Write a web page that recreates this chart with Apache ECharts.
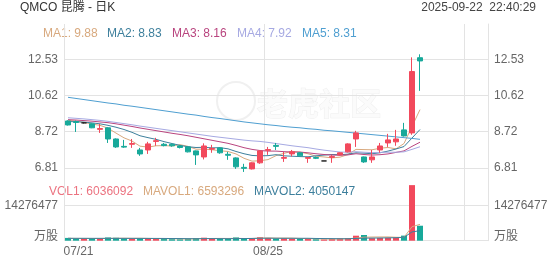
<!DOCTYPE html>
<html><head><meta charset="utf-8">
<script src="https://cdn.jsdelivr.net/npm/echarts@6/dist/echarts.min.js"></script>
<style>html,body{margin:0;padding:0;background:#fff}#c{width:552px;height:265px}</style>
</head><body><div id="c"></div>
<script>
// ---------- data ----------
const headerTitle = 'QMCO 昆腾 - 日K';
const timestamp = '2025-09-22  22:40:29';
const dates = ['07/21','07/22','07/23','07/24','07/25','07/28','07/29','07/30','07/31','08/01',
  '08/04','08/05','08/06','08/07','08/08','08/11','08/12','08/13','08/14','08/15',
  '08/18','08/19','08/20','08/21','08/22','08/25','08/26','08/27','08/28','08/29',
  '09/02','09/03','09/04','09/05','09/08','09/09','09/10','09/11','09/12','09/15',
  '09/16','09/17','09/18','09/19','09/22'];
const futureDates = ['09/23','09/24','09/25','09/26','09/29','09/30','10/01','10/02'];
const labelDates = ['07/21','08/25'];
const opens  = [9.28,9.25,9.18,9.13,8.84,8.92,8.33,7.94,8.05,7.75,7.75,8.20,8.05,8.05,7.96,7.91,7.70,7.38,7.79,7.86,7.52,7.33,6.83,6.75,7.07,7.73,7.99,7.31,7.54,7.60,7.31,7.35,7.17,7.36,7.49,7.65,8.33,7.38,7.23,7.75,8.12,8.18,8.81,8.65,12.62];
const closes = [9.07,9.20,9.18,8.92,8.88,8.33,7.91,7.90,8.09,7.54,8.07,8.24,7.98,7.97,7.88,7.65,7.49,7.96,7.83,7.60,7.47,6.86,6.78,7.07,7.70,7.77,7.94,7.35,7.65,7.44,7.35,7.31,7.17,7.40,7.60,8.07,8.65,7.12,7.38,7.96,8.28,8.33,8.49,11.89,12.45];
const lows   = [9.04,8.70,9.15,8.90,8.65,8.12,7.86,7.86,7.86,7.44,7.54,7.97,7.94,7.92,7.83,7.62,6.96,7.25,7.60,7.55,7.23,6.75,6.59,6.72,7.02,7.49,7.75,7.12,7.41,7.40,7.07,7.27,7.17,7.07,7.46,7.62,7.91,7.07,7.07,7.60,7.91,7.97,8.46,8.55,10.87];
const highs  = [9.32,9.30,9.20,9.15,9.12,8.95,8.36,8.28,8.33,7.86,8.18,8.39,8.12,8.09,8.00,7.94,7.72,8.10,8.02,7.88,7.65,7.36,7.02,7.10,7.74,7.91,8.12,7.65,7.75,7.64,7.38,7.40,7.17,7.49,7.62,8.10,8.76,7.40,7.75,8.12,8.60,8.81,9.18,12.64,12.80];
const ma1 = [9.32,9.27,9.20,9.12,9.05,8.90,8.64,8.39,8.22,7.95,7.90,7.97,7.98,7.96,8.03,7.94,7.79,7.79,7.76,7.71,7.67,7.54,7.31,7.16,7.18,7.24,7.45,7.57,7.68,7.63,7.55,7.42,7.38,7.33,7.37,7.51,7.78,7.77,7.76,7.84,7.88,7.81,8.09,8.99,9.88];
const ma2 = [9.25,9.24,9.22,9.18,9.13,9.05,8.95,8.83,8.68,8.50,8.40,8.31,8.19,8.09,7.99,7.92,7.88,7.89,7.86,7.87,7.81,7.67,7.55,7.46,7.44,7.45,7.50,7.44,7.42,7.40,7.39,7.44,7.48,7.51,7.50,7.53,7.60,7.58,7.55,7.60,7.69,7.80,7.93,8.38,8.83];
const ma3 = [9.35,9.33,9.30,9.27,9.23,9.19,9.13,9.06,8.99,8.91,8.84,8.77,8.70,8.63,8.57,8.50,8.42,8.34,8.26,8.18,8.10,7.99,7.87,7.78,7.72,7.69,7.69,7.66,7.64,7.64,7.60,7.55,7.51,7.48,7.47,7.49,7.55,7.51,7.48,7.50,7.54,7.62,7.70,7.94,8.16];
const ma4 = [9.45,9.42,9.39,9.35,9.31,9.26,9.20,9.14,9.08,9.01,8.95,8.89,8.83,8.77,8.71,8.65,8.59,8.53,8.47,8.42,8.37,8.32,8.27,8.23,8.20,8.15,8.09,8.03,7.97,7.92,7.87,7.80,7.74,7.69,7.64,7.63,7.66,7.63,7.61,7.62,7.63,7.63,7.65,7.78,7.92];
const ma5 = [10.53,10.47,10.41,10.35,10.29,10.23,10.18,10.11,10.06,10.00,9.94,9.88,9.82,9.76,9.70,9.64,9.59,9.52,9.46,9.41,9.35,9.29,9.23,9.18,9.13,9.08,9.04,8.99,8.95,8.92,8.87,8.84,8.79,8.76,8.72,8.68,8.64,8.60,8.56,8.52,8.48,8.44,8.40,8.36,8.31];
const volumes = [1124300,893200,782500,915600,706800,1312400,1187900,826300,694100,903700,1016500,798400,687200,612900,583600,804100,1093800,1215600,786400,704300,697800,1326500,912300,885100,1407200,1096400,912700,984600,803500,716200,692400,604800,512300,697100,903600,1087200,2014300,2296500,1012800,1112600,1196800,1284100,2043300,22398600,6036092];
const mavol1 = [950000,930000,910000,890000,884000,922000,981000,1010000,965000,985000,926000,848000,820000,804000,740000,697000,756000,862000,897000,921000,900000,946000,885000,905000,1046000,1126000,1043000,1057000,1041000,903000,822000,760000,666000,645000,682000,761000,1043000,1400000,1483000,1505000,1527000,1381000,1330000,5629000,6593296];
const mavol2 = [960000,955000,950000,948000,945000,942000,940000,938000,936000,935000,924000,914000,904000,874000,862000,811000,802000,841000,850000,830000,798000,851000,873000,900000,982000,1011000,991000,968000,969000,970000,970000,898000,858000,840000,790000,792000,902000,1031000,1053000,1093000,1143000,1213000,1362000,3534000,4050147];
const priceTicks = [6.81, 8.72, 10.62, 12.53];
const volTicks = [0, 14276477];
const volUnit = '万股';
const maNames = ['MA1','MA2','MA3','MA4','MA5'];
const maLast = [9.88, 8.83, 8.16, 7.92, 8.31];
const volNames = ['VOL1','MAVOL1','MAVOL2'];
const volLast = [6036092, 6593296, 4050147];
const watermark = '老虎社区';

// ---------- styles ----------
const FONT = "'Liberation Sans', Arial, 'Noto Sans CJK SC', sans-serif";
const UP = '#f2495c', DOWN = '#17a99a', DOJI = '#222';
const GRIDC = '#e3e3e3', LABELC = '#666';
const maColors = ['#d8a97e', '#3d7f9c', '#b9457f', '#a6a9e2', '#4f9fd1'];
const volColors = ['#ec7380', '#d8a97e', '#3d7f9c'];
const maX = [43, 107, 172, 237, 302];
const volX = [49, 143, 254];

const categories = dates.concat(futureDates);
const candleData = opens.map((o, i) => {
  const it = { value: [o, closes[i], lows[i], highs[i]] };
  if (o === closes[i]) it.itemStyle = { color: DOJI, color0: DOJI, borderColor: DOJI, borderColor0: DOJI };
  return it;
});
const volData = volumes.map((v, i) => ({ value: v, itemStyle: { color: closes[i] >= opens[i] ? UP : DOWN } }));

const chart = echarts.init(document.getElementById('c'), null, { renderer: 'canvas' });

const splitX = { show: true, interval: (i) => i % 25 === 0, lineStyle: { color: GRIDC, width: 1 } };
const priceMin = 5.90, priceMax = 14.40;
const volMax = 22450000;

function priceAxis(pos, showSplit) {
  return {
    type: 'value', gridIndex: 0, position: pos, min: priceMin, max: priceMax, scale: true,
    axisLine: { show: pos === 'right', lineStyle: { color: GRIDC } },
    axisTick: { show: false, customValues: priceTicks },
    axisLabel: { customValues: priceTicks, color: LABELC, fontSize: 12, fontFamily: FONT, margin: 6,
      formatter: (v) => v.toFixed(2) },
    splitLine: { show: showSplit, lineStyle: { color: GRIDC } }
  };
}
function volAxis(pos, showSplit) {
  return {
    type: 'value', gridIndex: 1, position: pos, min: 0, max: volMax,
    axisLine: { show: pos === 'right', lineStyle: { color: GRIDC } },
    axisTick: { show: false, customValues: volTicks },
    axisLabel: { customValues: volTicks, color: LABELC, fontSize: 12, fontFamily: FONT, margin: 6,
      formatter: (v) => v === 0 ? '{u|' + volUnit + '}' : String(v),
      rich: { u: { color: LABELC, fontSize: 12, fontFamily: FONT, padding: [0, 0, 9, 0] } } },
    splitLine: { show: showSplit, lineStyle: { color: GRIDC } }
  };
}

const graphics = [
  { type: 'circle', shape: { cx: 236, cy: 101, r: 19 }, style: { fill: 'none', stroke: '#f0f0f0', lineWidth: 2 }, z: 0 },
  { type: 'text', x: 257, y: 103, z: 0, style: { text: watermark, font: 'bold 31px "Noto Sans CJK SC"', fill: '#fbfbfb', stroke: '#eeeeee', lineWidth: 1, verticalAlign: 'middle' } },
  { type: 'text', x: 20, y: 8, style: { text: headerTitle, font: '12px ' + FONT, fill: '#333', verticalAlign: 'middle', align: 'left' } },
  { type: 'text', x: 536, y: 8, style: { text: timestamp, font: '12px ' + FONT, fill: '#444', verticalAlign: 'middle', align: 'right' } }
];
maNames.forEach((n, i) => graphics.push({ type: 'text', x: maX[i], y: 34, style: { text: n + ': ' + maLast[i].toFixed(2), font: '12px ' + FONT, fill: maColors[i], verticalAlign: 'middle' } }));
volNames.forEach((n, i) => graphics.push({ type: 'text', x: volX[i], y: 192, style: { text: n + ': ' + volLast[i], font: '12px ' + FONT, fill: volColors[i], verticalAlign: 'middle' } }));

const maSeries = [ma1, ma2, ma3, ma4, ma5].map((d, i) => ({
  type: 'line', name: maNames[i], xAxisIndex: 0, yAxisIndex: 0, data: d, showSymbol: false, symbol: 'none',
  lineStyle: { width: 1, color: maColors[i] }, z: 3, silent: true
}));

chart.setOption({
  animation: false,
  backgroundColor: '#fff',
  grid: [
    { left: 64, right: 64, top: 24, height: 161, outerBoundsMode: 'none' },
    { left: 64, right: 64, top: 185, bottom: 24.3, outerBoundsMode: 'none' }
  ],
  xAxis: [
    { type: 'category', gridIndex: 0, data: categories, boundaryGap: true,
      axisLine: { show: false }, axisTick: { show: false }, axisLabel: { show: false }, splitLine: splitX },
    { type: 'category', gridIndex: 1, data: categories, boundaryGap: true,
      axisLine: { show: false }, axisTick: { show: false },
      axisLabel: { color: LABELC, fontSize: 12, fontFamily: FONT, margin: 5,
        interval: (i, v) => labelDates.indexOf(v) >= 0,
        formatter: (v, i) => i === 0 ? '{l|' + v + '}' : v,
        rich: { l: { color: LABELC, fontSize: 12, fontFamily: FONT, padding: [0, 0, 0, 21] } } },
      splitLine: splitX }
  ],
  yAxis: [priceAxis('left', true), priceAxis('right', false), volAxis('left', true), volAxis('right', false)],
  graphic: graphics,
  series: [
    { type: 'candlestick', xAxisIndex: 0, yAxisIndex: 0, data: candleData, barWidth: 6,
      itemStyle: { color: UP, color0: DOWN, borderColor: UP, borderColor0: DOWN, borderWidth: 1 }, z: 4 },
    ...maSeries,
    { type: 'bar', xAxisIndex: 1, yAxisIndex: 2, data: volData, barWidth: 6 },
    { type: 'line', xAxisIndex: 1, yAxisIndex: 2, data: mavol1, showSymbol: false, symbol: 'none', lineStyle: { width: 1, color: volColors[1] } },
    { type: 'line', xAxisIndex: 1, yAxisIndex: 2, data: mavol2, showSymbol: false, symbol: 'none', lineStyle: { width: 1, color: volColors[2] } }
  ]
});
</script>
</body></html>
